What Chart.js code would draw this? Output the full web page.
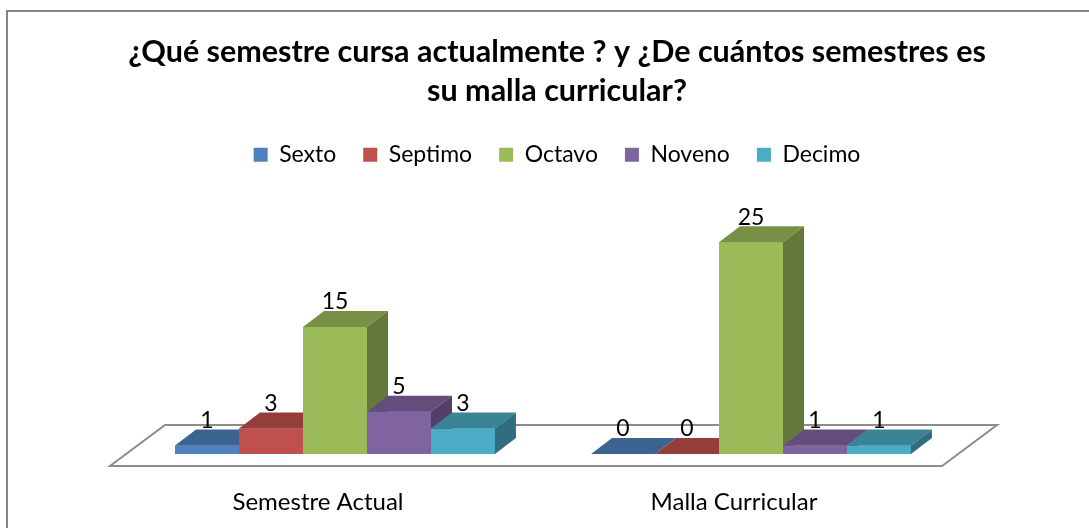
<!DOCTYPE html>
<html><head><meta charset="utf-8">
<script src="https://cdn.jsdelivr.net/npm/chart.js@4/dist/chart.umd.min.js"></script>
<style>html,body{margin:0;padding:0;background:#fff;}canvas{display:block;}</style>
</head><body>
<canvas id="c" width="1089" height="528"></canvas>
<script>
const categories = ['Semestre Actual', 'Malla Curricular'];
const seriesNames = ['Sexto', 'Septimo', 'Octavo', 'Noveno', 'Decimo'];
const sexto = [1, 0];
const septimo = [3, 0];
const octavo = [15, 25];
const noveno = [5, 1];
const decimo = [3, 1];
const seriesValues = [sexto, septimo, octavo, noveno, decimo];
const seriesColors = ['#4F81BD', '#C0504D', '#9BBB59', '#8064A2', '#4BACC6'];
const titleLines = ['¿Qué semestre cursa actualmente ? y ¿De cuántos semestres es', 'su malla curricular?'];

const FONT = 'Lato, "Open Sans", sans-serif';
const DX = 21, DY = 16;          // depth of bars
const FDX = 55, FDY = 41;        // depth of floor
const PX_PER_UNIT = 8.47;
const PLOT_BOTTOM = 454;

function shade(hex, f) {
  const n = parseInt(hex.slice(1), 16);
  const r = Math.round(((n >> 16) & 255) * f), g = Math.round(((n >> 8) & 255) * f), b = Math.round((n & 255) * f);
  return 'rgb(' + r + ',' + g + ',' + b + ')';
}

const bar3d = {
  id: 'bar3d',
  beforeDraw(chart) {
    const ctx = chart.ctx;
    ctx.save();
    ctx.fillStyle = '#fff';
    ctx.fillRect(0, 0, chart.width, chart.height);
    ctx.strokeStyle = '#868686';
    ctx.lineWidth = 2;
    ctx.beginPath();
    ctx.moveTo(7, chart.height); ctx.lineTo(7, 11); ctx.lineTo(chart.width, 11);
    ctx.stroke();
    ctx.restore();
  },
  beforeDatasetsDraw(chart) {
    const ctx = chart.ctx, ca = chart.chartArea;
    const fl = ca.left - 17, fr = ca.right - 17, fy = ca.bottom + 12;
    ctx.save();
    ctx.beginPath();
    ctx.moveTo(fl, fy); ctx.lineTo(fr, fy); ctx.lineTo(fr + FDX, fy - FDY); ctx.lineTo(fl + FDX, fy - FDY); ctx.closePath();
    ctx.fillStyle = '#fff'; ctx.fill();
    ctx.strokeStyle = '#8C8C8C'; ctx.lineWidth = 2; ctx.stroke();
    ctx.restore();
  },
  afterDatasetsDraw(chart) {
    const ctx = chart.ctx;
    const bars = [];
    chart.data.datasets.forEach((ds, di) => {
      const meta = chart.getDatasetMeta(di);
      meta.data.forEach((el, i) => {
        const p = el.getProps(['x', 'y', 'base', 'width'], true);
        bars.push({ p, color: seriesColors[di], value: ds.data[i] });
      });
    });
    bars.sort((a, b) => a.p.x - b.p.x);
    ctx.save();
    bars.forEach(b => {
      const l = b.p.x - b.p.width / 2, r = b.p.x + b.p.width / 2, t = Math.min(b.p.y, b.p.base), bot = b.p.base;
      ctx.fillStyle = b.color;
      ctx.fillRect(l, t, r - l, bot - t);
      ctx.beginPath();
      ctx.moveTo(l, t); ctx.lineTo(r, t); ctx.lineTo(r + DX, t - DY); ctx.lineTo(l + DX, t - DY); ctx.closePath();
      ctx.fillStyle = shade(b.color, 0.77); ctx.fill();
      ctx.beginPath();
      ctx.moveTo(r, t); ctx.lineTo(r + DX, t - DY); ctx.lineTo(r + DX, bot - DY); ctx.lineTo(r, bot); ctx.closePath();
      ctx.fillStyle = shade(b.color, 0.64); ctx.fill();
    });
    ctx.fillStyle = '#000';
    ctx.font = '23px ' + FONT;
    ctx.textAlign = 'center';
    ctx.textBaseline = 'middle';
    bars.forEach(b => {
      const t = Math.min(b.p.y, b.p.base);
      ctx.fillText(String(b.value), b.p.x, t - 25);
    });
    ctx.restore();
  }
};

const chart = new Chart(document.getElementById('c'), {
  type: 'bar',
  data: {
    labels: categories,
    datasets: seriesNames.map((n, i) => ({
      label: n,
      data: seriesValues[i],
      backgroundColor: seriesColors[i],
      borderWidth: 0,
      categoryPercentage: 0.769,
      barPercentage: 1
    }))
  },
  options: {
    responsive: false,
    animation: false,
    events: [],
    layout: { padding: { left: 127, right: 102, top: 12, bottom: 0 } },
    plugins: {
      title: {
        display: true, text: titleLines, color: '#000',
        font: { family: FONT, size: 30.5, weight: 'bold', lineHeight: 1.3 },
        padding: { top: 20, bottom: 5 }
      },
      legend: {
        position: 'top',
        labels: { font: { family: FONT, size: 23 }, color: '#000', boxWidth: 14, boxHeight: 14, padding: 27 }
      },
      tooltip: { enabled: false }
    },
    scales: {
      x: {
        grid: { display: false, drawTicks: false },
        border: { display: false },
        ticks: { font: { family: FONT, size: 24 }, color: '#000', padding: 34, labelOffset: -17, maxRotation: 0 },
        afterFit(scale) { scale.height = 528 - PLOT_BOTTOM; }
      },
      y: {
        position: 'right', display: true, min: 0, max: 30,
        grid: { display: false, drawTicks: false },
        border: { display: false },
        ticks: { display: false },
        afterFit(scale) { scale.width = 28; }
      }
    }
  },
  plugins: [bar3d]
});
const ca = chart.chartArea;
chart.options.scales.y.max = (ca.bottom - ca.top) / PX_PER_UNIT;
chart.update('none');
</script>
</body></html>
